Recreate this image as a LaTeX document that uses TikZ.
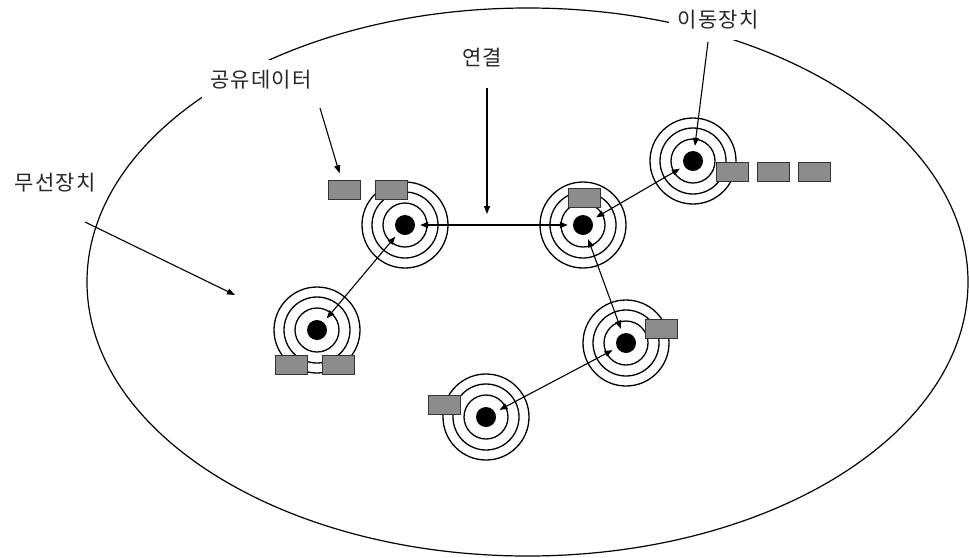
\documentclass[tikz,border=0pt]{standalone}
\usepackage{fontspec}
\newfontfamily\kofont[LetterSpace=6]{Noto Sans CJK KR}
\usepackage{xcolor}
\usetikzlibrary{arrows.meta}

\begin{document}
\begin{tikzpicture}[x=1pt,y=-1pt,>={Triangle[length=8pt,width=6pt]},
  dot/.style={circle,fill=black,inner sep=0pt,minimum size=20pt},
  ring/.style={line width=1.3pt},
  blk/.style={rectangle,draw=black!80,fill=black!45,line width=0.9pt,minimum width=32pt,minimum height=19pt,inner sep=0pt},
  lbl/.style={fill=white,inner xsep=8pt,inner ysep=10pt,font=\kofont\fontsize{21}{24}\selectfont,text=black!85},
  link/.style={<->,line width=1.1pt,shorten <=5pt,shorten >=5pt},
  callout/.style={->,line width=1.1pt}]
  \useasboundingbox (0,0) rectangle (969,557);
  \draw[line width=1.2pt] (527.5,282) ellipse [x radius=440.5, y radius=274];
  \node[lbl] (mobile) at (718,20) {이동장치};
  \node[lbl] (conn) at (482,58) {연결};
  \node[lbl] (share) at (261,80) {공유데이터};
  \node[lbl] (wireless) at (55,183) {무선장치};
  \node[dot] (d1) at (405,225) {};
  \node[dot] (d2) at (317,330) {};
  \node[dot] (d3) at (583,225) {};
  \node[dot] (d4) at (693,161) {};
  \node[dot] (d5) at (626,343) {};
  \node[dot] (d6) at (486,417) {};
  \foreach \d in {d1,d2,d3,d4,d5,d6}
    \foreach \r in {22,33,43}
      \draw[ring] (\d) circle [radius=\r];
  \node[blk] (b1a) at (344.5,190) {};
  \node[blk] (b1b) at (391,190) {};
  \node[blk] (b2a) at (291,365) {};
  \node[blk] (b2b) at (338.5,365) {};
  \node[blk] (b3) at (584,198) {};
  \node[blk] (b4a) at (732,172) {};
  \node[blk] (b4b) at (773,172) {};
  \node[blk] (b4c) at (814,172) {};
  \node[blk] (b5) at (661.5,329) {};
  \node[blk] (b6) at (444,404.5) {};
  \draw[link] (d1) -- (d3);
  \draw[link] (d1) -- (d2);
  \draw[link] (d3) -- (d4);
  \draw[link] (d3) -- (d5);
  \draw[link] (d5) -- (d6);
  \coordinate (mobileTail) at (708,42);
  \coordinate (connTail) at (487,88);
  \coordinate (connTip) at (487,214);
  \coordinate (shareTail) at (320,108);
  \coordinate (wirelessTail) at (85,222);
  \coordinate (wirelessTip) at (235,295);
  \draw[callout,shorten >=5pt] (mobileTail) -- (d4);
  \draw[callout] (connTail) -- (connTip);
  \draw[callout,shorten >=7pt] (shareTail) -- (b1a);
  \draw[callout] (wirelessTail) -- (wirelessTip);
\end{tikzpicture}
\end{document}
